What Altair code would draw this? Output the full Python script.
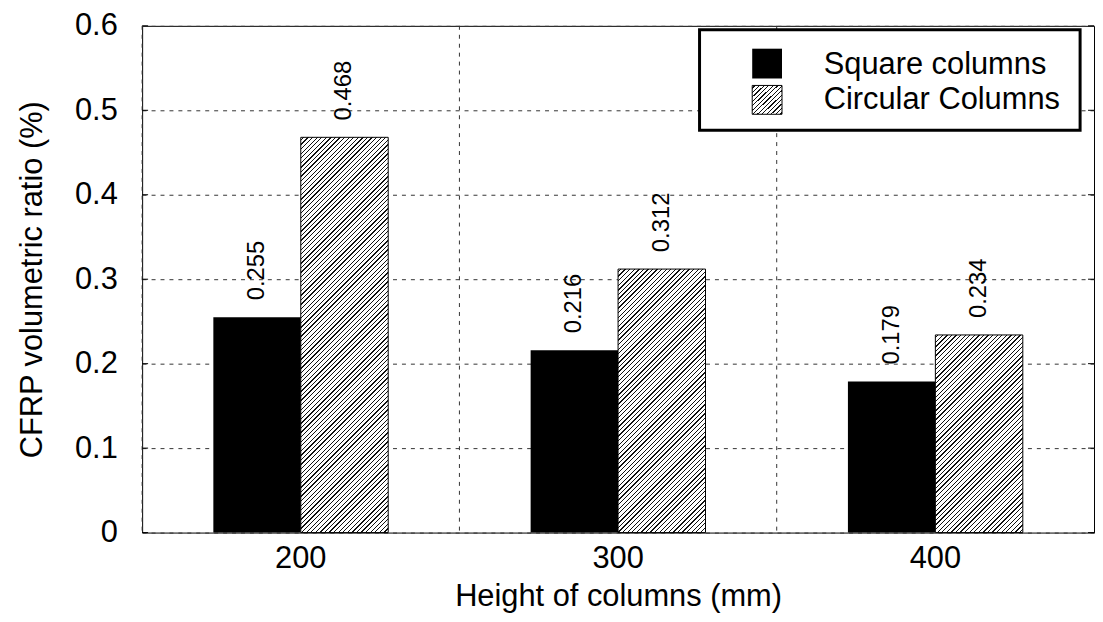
import altair as alt
import pandas as pd

# ---- data ----
heights = ["200", "300", "400"]
square = [0.255, 0.216, 0.179]
circular = [0.468, 0.312, 0.234]
series = ["Square columns", "Circular Columns"]
y_ticks = [0, 0.1, 0.2, 0.3, 0.4, 0.5, 0.6]

# ---- layout / style ----
W, H = 958, 510
YMAX = 0.6
PAD_OUT = 0.8144
FONT = "Liberation Sans"
FS = 31
GRID_DASH = [4, 5]
GRID_COLOR = "#333333"

rows = []
for h, s, c in zip(heights, square, circular):
    rows.append({"height": h, "series": series[0], "value": s})
    rows.append({"height": h, "series": series[1], "value": c})
df = pd.DataFrame(rows)

band = W / len(heights)
bar_w = band / (2 + 2 * PAD_OUT)


def hatch(w, h, spacing=4.6, thick=1.3, color="#111111"):
    """Diagonal '/' hatch as a linear gradient in the mark's bounding box."""
    total = w + h
    k = total / (w * w + h * h)
    stops = [alt.GradientStop(offset=0, color="white")]
    c = spacing / 2
    while c + thick < total:
        a = c / total
        b = (c + thick) / total
        stops += [
            alt.GradientStop(offset=a, color="white"),
            alt.GradientStop(offset=a, color=color),
            alt.GradientStop(offset=b, color=color),
            alt.GradientStop(offset=b, color="white"),
        ]
        c += spacing
    stops.append(alt.GradientStop(offset=1, color="white"))
    return alt.LinearGradient(gradient="linear", stops=stops,
                              x1=0, y1=0, x2=w * k, y2=h * k)


xscale = alt.Scale(type="band", domain=heights, paddingInner=0, paddingOuter=0)
xaxis = alt.Axis(title="Height of columns (mm)", labelAngle=0, ticks=False,
                 domain=False, grid=False, labelPadding=11, titlePadding=8,
                 labelFontSize=FS, titleFontSize=FS, titleFontWeight="normal")
X = alt.X("height:N", scale=xscale, axis=xaxis, sort=heights)
XO = alt.XOffset("series:N", sort=series,
                 scale=alt.Scale(domain=series, paddingOuter=PAD_OUT, paddingInner=0))
Y = alt.Y("value:Q", scale=alt.Scale(domain=[0, YMAX], nice=False),
          axis=alt.Axis(values=y_ticks, format="~g",
                        title="CFRP volumetric ratio (%)",
                        grid=True, gridDash=GRID_DASH, gridColor=GRID_COLOR,
                        gridWidth=1, ticks=False, domain=False,
                        labelPadding=25, titlePadding=26,
                        labelFontSize=FS, titleFontSize=FS,
                        titleFontWeight="normal"))

layers = []

# vertical grid between groups
vgrid = alt.Chart(pd.DataFrame({"height": heights})).mark_rule(
    strokeDash=GRID_DASH, color=GRID_COLOR, strokeWidth=1
).encode(x=alt.X("height:N", scale=xscale, axis=xaxis, sort=heights, bandPosition=0))
layers.append(vgrid)

# inward y ticks on left and right frame
tick_df = pd.DataFrame({"value": y_ticks})
layers.append(alt.Chart(tick_df).mark_rule(color="black", strokeWidth=1).encode(
    y=Y, x=alt.value(0), x2=alt.value(6)))
layers.append(alt.Chart(tick_df).mark_rule(color="black", strokeWidth=1).encode(
    y=Y, x=alt.value(W - 6), x2=alt.value(W)))

# solid bars
layers.append(alt.Chart(df).transform_filter(alt.datum.series == series[0]).mark_bar(
    color="black").encode(x=X, xOffset=XO, y=Y))

# hatched bars (one layer per bar so the hatch keeps its angle)
for h, v in zip(heights, circular):
    hpx = v / YMAX * H
    layers.append(
        alt.Chart(df)
        .transform_filter((alt.datum.series == series[1]) & (alt.datum.height == h))
        .mark_bar(fill=hatch(bar_w, hpx), stroke="black", strokeWidth=1)
        .encode(x=X, xOffset=XO, y=Y)
    )

# value labels
layers.append(alt.Chart(df).mark_text(
    angle=270, align="left", baseline="middle", dx=17, fontSize=24,
    font=FONT, color="black"
).encode(x=X, xOffset=XO, y=Y, text=alt.Text("value:Q", format=".3f")))

# legend
one = pd.DataFrame({"label": [series[0]]})
two = pd.DataFrame({"label": [series[1]]})
layers.append(alt.Chart(one).mark_rect(fill="white", stroke="black", strokeWidth=3).encode(
    x=alt.value(561), x2=alt.value(944), y=alt.value(4), y2=alt.value(105)))
layers.append(alt.Chart(one).mark_rect(fill="black").encode(
    x=alt.value(614), x2=alt.value(644), y=alt.value(23), y2=alt.value(53)))
layers.append(alt.Chart(two).mark_rect(fill=hatch(30, 30), stroke="black", strokeWidth=1).encode(
    x=alt.value(614), x2=alt.value(644), y=alt.value(60), y2=alt.value(89)))
layers.append(alt.Chart(one).mark_text(align="left", baseline="middle", fontSize=FS,
                                       font=FONT, color="black").encode(
    x=alt.value(686), y=alt.value(39), text="label:N"))
layers.append(alt.Chart(two).mark_text(align="left", baseline="middle", fontSize=FS,
                                       font=FONT, color="black").encode(
    x=alt.value(686), y=alt.value(75), text="label:N"))

chart = alt.layer(*layers).properties(
    width=W, height=H,
    autosize=alt.AutoSizeParams(type="none"),
    padding={"left": 135, "top": 16, "right": 1, "bottom": 80},
).configure(font=FONT).configure_view(stroke="black", strokeWidth=1).configure_axis(
    labelFont=FONT, titleFont=FONT, labelColor="black", titleColor="black")

chart.save("out.html", embed_options={"renderer": "svg", "actions": False})
